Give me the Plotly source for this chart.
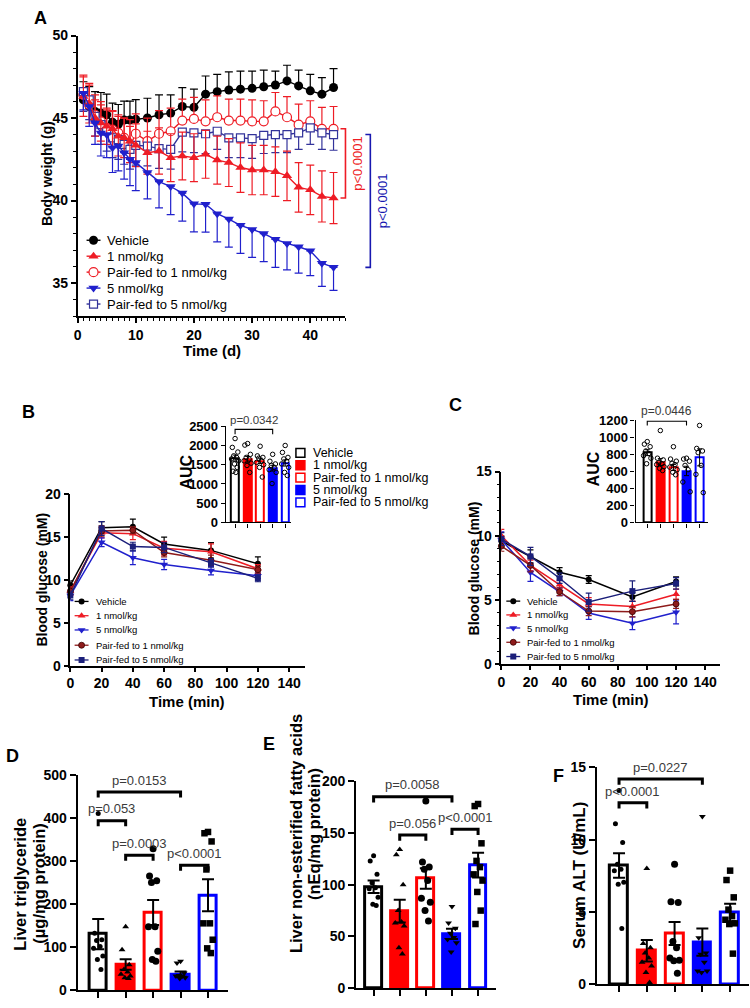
import plotly.graph_objects as go

W, H = 750, 1008
FONT = "Liberation Sans, Arial, Helvetica, sans-serif"

# ---------------- colours ----------------
BLACK = "#000000"
RED = "#EE1C25"
BLUE = "#2020CC"
NAVY = "#33339A"
DRED = "#8E1B1B"
NAVY2 = "#1B1F7A"
BAR_RED = "#FF0000"
BAR_BLUE = "#0000FF"
PGRAY = "#3A3A3A"

GROUPS = ["Vehicle", "1 nmol/kg", "Pair-fed to 1 nmol/kg", "5 nmol/kg", "Pair-fed to 5 nmol/kg"]

# ---------------- Panel A : body weight (g) ----------------
a_days = [1, 2, 3, 4, 5, 6, 7, 8, 9, 10, 12, 14, 16, 18, 20, 22, 24, 26, 28, 30, 32, 34, 36, 38, 40, 42, 44]
a_vehicle = [46.1, 45.7, 45.4, 45.3, 45.2, 44.75, 44.62, 44.88, 44.88, 44.92, 45.0, 45.2, 45.3, 45.7, 45.65,
             46.45, 46.6, 46.7, 46.75, 46.8, 46.9, 47.0, 47.25, 46.95, 46.65, 46.45, 46.85]
a_vehicle_sem = [1.1, 1.2, 1.2, 1.25, 1.25, 1.15, 1.2, 1.15, 1.15, 1.2, 1.2, 1.2, 1.1, 1.15, 1.1,
                 1.1, 1.05, 1.1, 1.1, 1.05, 1.0, 0.85, 0.95, 0.95, 1.0, 1.0, 1.15]
a_1nmol = [46.3, 45.9, 45.0, 44.7, 44.5, 44.35, 43.9, 43.8, 43.6, 43.35, 42.9, 43.0, 42.6, 42.7, 42.6,
           42.8, 42.45, 42.3, 42.0, 41.85, 41.85, 41.75, 41.5, 40.8, 40.65, 40.25, 40.15]
a_1nmol_sem = [1.2, 1.2, 1.1, 1.1, 1.1, 1.1, 1.2, 1.2, 1.3, 1.3, 1.3, 1.4, 1.45, 1.45, 1.45,
               1.45, 1.45, 1.45, 1.5, 1.5, 1.5, 1.5, 1.5, 1.5, 1.5, 1.55, 1.55]
a_pf1 = [46.4, 45.8, 45.2, 44.8, 44.4, 44.3, 44.1, 43.8, 43.3, 44.05, 43.6, 44.05, 44.2, 44.85, 44.95,
         44.8, 45.05, 44.85, 44.85, 44.8, 44.8, 45.4, 45.05, 44.6, 44.8, 44.35, 44.35]
a_pf1_sem = [1.2, 1.2, 1.2, 1.2, 1.1, 1.1, 1.1, 1.2, 1.2, 1.2, 1.4, 1.4, 1.4, 1.3, 1.3,
             1.3, 1.3, 1.3, 1.3, 1.3, 1.25, 1.15, 1.25, 1.25, 1.25, 1.3, 1.35]
a_5nmol = [46.5, 45.7, 44.7, 44.1, 44.0, 43.2, 43.3, 42.9, 42.5, 42.3, 41.7, 41.15, 40.85, 40.45, 39.8,
           39.78, 39.2, 38.88, 38.5, 38.25, 38.0, 37.65, 37.4, 37.2, 36.95, 36.2, 35.95]
a_5nmol_sem = [1.0, 1.2, 1.3, 1.4, 1.4, 1.5, 1.5, 1.6, 1.6, 1.7, 1.6, 1.6, 1.7, 1.7, 1.7,
               1.7, 1.7, 1.7, 1.7, 1.7, 1.7, 1.7, 1.6, 1.6, 1.5, 1.4, 1.4]
a_pf5 = [46.6, 46.1, 45.1, 44.6, 44.2, 43.8, 43.7, 43.4, 43.1, 43.35, 43.3, 43.15, 43.1, 44.15, 44.1,
         44.05, 44.2, 43.8, 43.8, 43.75, 43.95, 44.0, 44.0, 44.1, 44.4, 44.1, 44.0]
a_pf5_sem = [1.2, 1.2, 1.2, 1.2, 1.2, 1.2, 1.2, 1.2, 1.2, 1.2, 1.2, 1.2, 1.2, 1.2, 1.2,
             1.2, 1.1, 1.2, 1.2, 1.2, 1.1, 1.1, 1.1, 1.0, 1.0, 1.0, 0.95]
a_x_ticks = [0, 10, 20, 30, 40]
a_y_ticks = [35, 40, 45, 50]

# ---------------- Panel B : IPGTT blood glucose (mM) ----------------
b_time = [0, 20, 40, 60, 90, 120]
b_vehicle = [9.4, 16.1, 16.2, 14.2, 13.45, 11.9]
b_vehicle_sem = [0.5, 0.7, 0.9, 0.8, 0.9, 0.8]
b_1nmol = [8.7, 15.5, 15.4, 13.7, 13.3, 11.3]
b_1nmol_sem = [0.5, 0.6, 0.7, 0.8, 0.9, 0.5]
b_5nmol = [8.2, 14.4, 12.6, 11.8, 11.1, 10.5]
b_5nmol_sem = [0.6, 0.5, 0.8, 0.6, 0.5, 0.3]
b_pf1 = [8.7, 15.7, 15.8, 13.2, 12.3, 11.2]
b_pf1_sem = [0.4, 0.6, 0.4, 0.5, 0.6, 0.4]
b_pf5 = [8.2, 16.0, 13.9, 13.8, 12.0, 10.2]
b_pf5_sem = [0.5, 0.8, 0.5, 0.6, 0.5, 0.4]
b_auc_mean = [1670, 1640, 1600, 1410, 1545]
b_auc_sem = [80, 75, 70, 75, 80]
b_auc_vehicle = [2180, 1950, 1830, 1730, 1690, 1650, 1600, 1520, 1430, 1330, 1300]
b_auc_1nmol = [2050, 2010, 1770, 1690, 1650, 1600, 1540, 1480, 1300]
b_auc_pf1 = [1980, 1730, 1690, 1670, 1600, 1560, 1500, 1430, 1180]
b_auc_5nmol = [1770, 1590, 1520, 1480, 1430, 1370, 1300, 1010]
b_auc_pf5 = [2000, 1820, 1690, 1650, 1590, 1520, 1430, 1300, 1220]

# ---------------- Panel C : ITT blood glucose (mM) ----------------
c_time = [0, 20, 40, 60, 90, 120]
c_vehicle = [9.6, 8.4, 7.17, 6.6, 5.25, 6.45]
c_vehicle_sem = [0.4, 0.5, 0.35, 0.3, 0.35, 0.35]
c_1nmol = [10.0, 7.7, 6.2, 4.7, 4.5, 5.45]
c_1nmol_sem = [0.5, 0.4, 0.35, 0.5, 0.4, 0.4]
c_5nmol = [9.7, 7.15, 5.65, 4.0, 3.2, 4.05]
c_5nmol_sem = [0.6, 0.7, 0.3, 0.5, 0.5, 0.9]
c_pf1 = [9.2, 7.7, 5.65, 4.15, 4.1, 4.7]
c_pf1_sem = [0.4, 0.5, 0.3, 0.35, 0.4, 0.35]
c_pf5 = [9.75, 8.4, 6.7, 4.85, 5.7, 6.3]
c_pf5_sem = [0.5, 0.7, 0.4, 0.7, 0.8, 0.45]
c_auc_mean = [820, 710, 645, 605, 765]
c_auc_sem = [35, 40, 35, 55, 100]
c_auc_vehicle = [950, 920, 890, 840, 810, 785, 755, 690]
c_auc_1nmol = [1080, 755, 735, 705, 690, 680, 655, 635, 610]
c_auc_pf1 = [890, 745, 720, 695, 680, 650, 620, 590, 560]
c_auc_5nmol = [755, 745, 720, 670, 620, 475, 360]
c_auc_pf5 = [1140, 870, 840, 820, 670, 565, 350]

# ---------------- Panel D : liver triglyceride ----------------
d_mean = [130, 59.5, 180, 37, 220]
d_sem = [35, 12, 29, 6, 37]
d_vehicle = [410, 132, 117, 115, 101, 97, 79, 71, 48]
d_1nmol = [147, 94, 59, 48, 42, 37, 33, 29, 27]
d_pf1 = [328, 265, 254, 250, 147, 147, 90, 71, 67]
d_5nmol = [67, 63, 40, 34, 33, 33, 29, 27]
d_pf5 = [367, 364, 345, 280, 155, 155, 117, 97, 86]

# ---------------- Panel E : liver NEFA ----------------
e_mean = [98, 74.5, 106, 52.5, 119]
e_sem = [6, 11, 10, 5, 12]
e_vehicle = [128, 123, 110, 102, 97, 96, 88, 81, 80]
e_1nmol = [134, 129, 100, 75, 64, 63, 60, 39, 33]
e_pf1 = [181, 122, 117, 115, 104, 87, 83, 75, 65]
e_5nmol = [79, 63, 58, 53, 49, 47, 44, 35]
e_pf5 = [178, 176, 140, 123, 117, 110, 104, 93, 75, 62]

# ---------------- Panel F : serum ALT ----------------
f_mean = [8.2, 2.3, 3.5, 2.9, 4.95]
f_sem = [0.85, 0.75, 0.8, 0.95, 0.6]
f_vehicle = [13.4, 11.1, 9.8, 8.3, 7.95, 7.85, 7.05, 6.9, 3.85]
f_1nmol = [8.0, 2.8, 2.5, 2.15, 1.8, 1.5, 1.25, 0.8, 0.1]
f_pf1 = [8.3, 5.7, 5.65, 2.95, 2.5, 1.8, 1.65, 1.6, 0.75]
f_5nmol = [11.6, 3.2, 2.15, 2.05, 1.5, 0.9, 0.9, 0.8]
f_pf5 = [7.85, 7.2, 6.0, 5.15, 4.7, 4.45, 4.2, 4.15, 2.1]

# ---------------- helpers ----------------
fig = go.Figure()
JIT = [0.0, -0.13, 0.13, -0.06, 0.07, -0.17, 0.17, -0.03, 0.1, -0.1, 0.03]
JIT_INSET = [0.0, -0.22, 0.22, -0.11, 0.12, -0.28, 0.28, -0.05, 0.17, -0.17, 0.06]


def axis_common(size=14, lw=1.5):
    return dict(showline=True, linecolor="black", linewidth=lw, ticks="outside", ticklen=5,
                tickwidth=lw, tickcolor="black", showgrid=False, zeroline=False,
                tickfont=dict(family=FONT, size=size, color="black", weight="bold"),
                fixedrange=True)


class Panel:
    def __init__(self, sfx, xpx, xr, ypx, yr):
        self.sfx, self.xpx, self.xr, self.ypx, self.yr = sfx, xpx, xr, ypx, yr
        self.xa, self.ya = "x" + sfx, "y" + sfx

    def px(self, v):
        return self.xpx[0] + (v - self.xr[0]) / (self.xr[1] - self.xr[0]) * (self.xpx[1] - self.xpx[0])

    def py(self, v):
        return self.ypx[1] - (v - self.yr[0]) / (self.yr[1] - self.yr[0]) * (self.ypx[1] - self.ypx[0])

    def setup(self, xkw, ykw, size=14, lw=1.5):
        xk = axis_common(size, lw)
        xk.update(domain=[self.xpx[0] / W, self.xpx[1] / W], range=list(self.xr), anchor=self.ya)
        xk.update(xkw)
        yk = axis_common(size, lw)
        yk.update(domain=[1 - self.ypx[1] / H, 1 - self.ypx[0] / H], range=list(self.yr), anchor=self.xa)
        yk.update(ykw)
        fig.update_layout({"xaxis" + self.sfx: xk, "yaxis" + self.sfx: yk})


def text(x, y, s, size, color="black", bold=False, angle=0, xanchor="center", yanchor="middle"):
    fig.add_annotation(x=x, y=y, xref="x9", yref="y9", text=s, showarrow=False, textangle=angle,
                       xanchor=xanchor, yanchor=yanchor,
                       font=dict(family=FONT, size=size, color=color, weight="bold" if bold else "normal"))


def path(d, color="black", width=1.0):
    fig.add_shape(type="path", path=d, xref="x9", yref="y9", line=dict(color=color, width=width))


def hbracket(p, i0, i1, yv, drop, lw, color="black"):
    x0, x1 = p.px(i0), p.px(i1)
    y, yd = p.py(yv), p.py(yv - drop)
    path(f"M {x0},{yd} L {x0},{y} L {x1},{y} L {x1},{yd}", color, lw)


# panels (pixel boxes)
PA = Panel("", (74, 343), (0, 46), (28, 313), (33, 50))
PB = Panel("2", (66.7, 302.4), (0, 150), (494, 668.5), (0, 20))
PBi = Panel("3", (223, 289), (-0.74, 4.5), (425, 522.7), (0, 2500))
PC = Panel("4", (500, 719.6), (0, 150), (471, 667), (0, 15))
PCi = Panel("5", (635, 708), (-0.89, 4.66), (419, 522.7), (0, 1200))
PD = Panel("6", (74, 225), (-0.75, 4.72), (779, 998), (0, 500))
PE = Panel("7", (354, 495), (-0.67, 4.7), (785.7, 996), (0, 200))
PF = Panel("8", (596, 749), (-0.8, 4.68), (771.7, 991.7), (0, 15))

# overlay pixel axes
fig.update_layout(
    xaxis9=dict(domain=[0, 1], range=[0, W], visible=False, anchor="y9", fixedrange=True),
    yaxis9=dict(domain=[0, 1], range=[H, 0], visible=False, anchor="x9", fixedrange=True),
)

# ================= Panel A =================
PA.setup(
    dict(tickvals=a_x_ticks, minor=dict(dtick=1, ticks="outside", ticklen=3, tickwidth=1, tickcolor="black")),
    dict(tickvals=a_y_ticks, minor=dict(dtick=1, ticks="outside", ticklen=3, tickwidth=1, tickcolor="black")),
    size=14,
)
zeros = [0] * len(a_days)
a_series = [
    (a_vehicle, a_vehicle_sem, zeros, BLACK, dict(symbol="circle", size=9, color=BLACK)),
    (a_pf1, a_pf1_sem, zeros, RED, dict(symbol="circle", size=9, color="white", line=dict(color=RED, width=1.2))),
    (a_pf5, zeros, a_pf5_sem, NAVY, dict(symbol="square", size=8, color="white", line=dict(color=NAVY, width=1.2))),
    (a_1nmol, a_1nmol_sem, a_1nmol_sem, RED, dict(symbol="triangle-up", size=9, color=RED)),
    (a_5nmol, zeros, a_5nmol_sem, BLUE, dict(symbol="triangle-down", size=9, color=BLUE)),
]
for ys, up, dn, col, mk in a_series:
    fig.add_trace(go.Scatter(
        x=a_days, y=ys, mode="lines+markers", xaxis=PA.xa, yaxis=PA.ya, cliponaxis=False,
        line=dict(color=col, width=1.4), marker=mk,
        error_y=dict(type="data", symmetric=False, array=up, arrayminus=dn, color=col, thickness=1.2, width=4)))

# Panel A legend
a_leg = [
    ("Vehicle", BLACK, dict(symbol="circle", size=9, color=BLACK)),
    ("1 nmol/kg", RED, dict(symbol="triangle-up", size=9, color=RED)),
    ("Pair-fed to 1 nmol/kg", RED, dict(symbol="circle", size=9, color="white", line=dict(color=RED, width=1.2))),
    ("5 nmol/kg", BLUE, dict(symbol="triangle-down", size=9, color=BLUE)),
    ("Pair-fed to 5 nmol/kg", NAVY, dict(symbol="square", size=8, color="white", line=dict(color=NAVY, width=1.2))),
]
for k, (name, col, mk) in enumerate(a_leg):
    yy = 236 + k * 16.2
    fig.add_trace(go.Scatter(x=[83, 97], y=[yy, yy], mode="lines", line=dict(color=col, width=1.4),
                             xaxis="x9", yaxis="y9"))
    fig.add_trace(go.Scatter(x=[90], y=[yy], mode="markers", marker=mk, xaxis="x9", yaxis="y9"))
    text(102, yy, name, 13, xanchor="left")

# Panel A significance brackets (connect last points)
xr_ = PA.px(a_days[-1]) + 12
y_top, y_bot = PA.py(a_pf1[-1]), PA.py(a_1nmol[-1])
path(f"M {xr_-5},{y_top} L {xr_},{y_top} L {xr_},{y_bot} L {xr_-5},{y_bot}", RED, 1.6)
text(xr_ + 12, (y_top + y_bot) / 2, "p<0.0001", 13, RED, angle=-90)
xb_ = xr_ + 25
y_top, y_bot = PA.py(a_pf5[-1]), PA.py(a_5nmol[-1])
path(f"M {xb_-5},{y_top} L {xb_},{y_top} L {xb_},{y_bot} L {xb_-5},{y_bot}", "#1818B0", 1.6)
text(xb_ + 13, (y_top + y_bot) / 2, "p<0.0001", 13, "#1818B0", angle=-90)

text(44, 168, "Body weight (g)", 14, bold=True, angle=-90)
text(209, 348, "Time (d)", 15, bold=True)
text(37, 10, "A", 18, bold=True)

# ================= Panels B and C (line charts) =================
bc_styles = [
    (BLACK, dict(symbol="circle", size=6, color=BLACK)),
    (RED, dict(symbol="triangle-up", size=7, color=RED)),
    (BLUE, dict(symbol="triangle-down", size=7, color=BLUE)),
    (DRED, dict(symbol="circle", size=6, color=DRED, line=dict(color="#3A0000", width=0.8))),
    (NAVY2, dict(symbol="square", size=6, color=NAVY2)),
]
bc_names = ["Vehicle", "1 nmol/kg", "5 nmol/kg", "Pair-fed to 1 nmol/kg", "Pair-fed to 5 nmol/kg"]

PB.setup(dict(tickvals=[0, 20, 40, 60, 80, 100, 120, 140], ticklen=4), dict(tickvals=[0, 5, 10, 15, 20]))
PC.setup(dict(tickvals=[0, 20, 40, 60, 80, 100, 120, 140], ticklen=4),
         dict(tickvals=[0, 5, 10, 15], minor=dict(dtick=1, ticks="outside", ticklen=3, tickwidth=1, tickcolor="black")))

b_data = [(b_vehicle, b_vehicle_sem), (b_1nmol, b_1nmol_sem), (b_5nmol, b_5nmol_sem),
          (b_pf1, b_pf1_sem), (b_pf5, b_pf5_sem)]
c_data = [(c_vehicle, c_vehicle_sem), (c_1nmol, c_1nmol_sem), (c_5nmol, c_5nmol_sem),
          (c_pf1, c_pf1_sem), (c_pf5, c_pf5_sem)]
for P, tt, dat in [(PB, b_time, b_data), (PC, c_time, c_data)]:
    for (ys, sem), (col, mk) in zip(dat, bc_styles):
        fig.add_trace(go.Scatter(
            x=tt, y=ys, mode="lines+markers", xaxis=P.xa, yaxis=P.ya, cliponaxis=False,
            line=dict(color=col, width=1.5), marker=mk,
            error_y=dict(type="data", array=sem, color=col, thickness=1.2, width=3)))

# B and C legends
for x_line, rows in [((71, 85), [603, 617.5, 632, 647.5, 662.5]), ((505, 519), [602.7, 616.7, 630, 644.5, 659])]:
    for name, (col, mk), yy in zip(bc_names, bc_styles, rows):
        fig.add_trace(go.Scatter(x=list(x_line), y=[yy, yy], mode="lines", line=dict(color=col, width=1.3),
                                 xaxis="x9", yaxis="y9"))
        fig.add_trace(go.Scatter(x=[(x_line[0] + x_line[1]) / 2], y=[yy], mode="markers", marker=mk,
                                 xaxis="x9", yaxis="y9"))
        text(x_line[1] + 5, yy, name, 9.5, xanchor="left")

text(38, 581, "Blood glucose (mM)", 14, bold=True, angle=-90)
text(184, 705, "Time (min)", 15, bold=True)
text(25, 411, "B", 18, bold=True)
text(472, 569, "Blood glucose (mM)", 14, bold=True, angle=-90)
text(610, 703, "Time (min)", 15, bold=True)
text(454, 403, "C", 18, bold=True)

# ================= AUC insets =================
FILL = ["white", BAR_RED, "white", BAR_BLUE, "white"]
EDGE = ["black", BAR_RED, BAR_RED, BAR_BLUE, BAR_BLUE]
cats = [0, 1, 2, 3, 4]

PBi.setup(dict(tickvals=cats, showticklabels=False, ticklen=4),
          dict(tickvals=[0, 500, 1000, 1500, 2000, 2500], ticklen=4), size=13, lw=1.3)
PCi.setup(dict(tickvals=cats, showticklabels=False, ticklen=4),
          dict(tickvals=[0, 200, 400, 600, 800, 1000, 1200], ticklen=4), size=13, lw=1.3)

for P, mean, sem, pts in [
    (PBi, b_auc_mean, b_auc_sem, [b_auc_vehicle, b_auc_1nmol, b_auc_pf1, b_auc_5nmol, b_auc_pf5]),
    (PCi, c_auc_mean, c_auc_sem, [c_auc_vehicle, c_auc_1nmol, c_auc_pf1, c_auc_5nmol, c_auc_pf5]),
]:
    fig.add_trace(go.Bar(x=cats, y=mean, width=0.62, xaxis=P.xa, yaxis=P.ya,
                         marker=dict(color=FILL, line=dict(color=EDGE, width=2)),
                         error_y=dict(type="data", array=sem, color="black", thickness=1, width=2.5)))
    for i, vals in enumerate(pts):
        fig.add_trace(go.Scatter(x=[i + JIT_INSET[k] for k in range(len(vals))], y=vals, mode="markers",
                                 xaxis=P.xa, yaxis=P.ya, cliponaxis=False,
                                 marker=dict(symbol="circle-open", size=4.5, color="black", line=dict(width=1))))

hbracket(PBi, 0, 3, 2420, 130, 1.1)
text((PBi.px(0) + PBi.px(3)) / 2, PBi.py(2420) - 9, "p=0.0342", 11.5, PGRAY)
hbracket(PCi, 0, 3, 1190, 50, 1.1)
text((PCi.px(0) + PCi.px(3)) / 2, PCi.py(1190) - 10, "p=0.0446", 12, PGRAY)
text(183, 472, "AUC", 16, bold=True, angle=-90)
text(593, 468, "AUC", 16, bold=True, angle=-90)

# B inset legend
for k, (name, fc, ec) in enumerate(zip(GROUPS, FILL, EDGE)):
    yy = 452 + k * 12.6
    fig.add_shape(type="rect", xref="x9", yref="y9", x0=293.5, x1=302.5, y0=yy - 4.5, y1=yy + 4.5,
                  fillcolor=fc, line=dict(color=ec, width=1.5))
    text(309, yy, name, 12.5, xanchor="left")

# ================= Panels D, E, F =================
SYMS = [("circle", 5), ("triangle-up", 6), ("circle", 7), ("triangle-down", 6), ("square", 6.5)]
for P, mean, sem, pts, yticks in [
    (PD, d_mean, d_sem, [d_vehicle, d_1nmol, d_pf1, d_5nmol, d_pf5], [0, 100, 200, 300, 400, 500]),
    (PE, e_mean, e_sem, [e_vehicle, e_1nmol, e_pf1, e_5nmol, e_pf5], [0, 50, 100, 150, 200]),
    (PF, f_mean, f_sem, [f_vehicle, f_1nmol, f_pf1, f_5nmol, f_pf5], [0, 5, 10, 15]),
]:
    P.setup(dict(tickvals=cats, showticklabels=False, ticklen=6), dict(tickvals=yticks, ticklen=6), size=14, lw=2)
    fig.add_trace(go.Bar(x=cats, y=mean, width=0.64, xaxis=P.xa, yaxis=P.ya,
                         marker=dict(color=FILL, line=dict(color=EDGE, width=3)),
                         error_y=dict(type="data", array=sem, color="black", thickness=2, width=6)))
    for i, vals in enumerate(pts):
        sym, sz = SYMS[i]
        fig.add_trace(go.Scatter(x=[i + JIT[k] for k in range(len(vals))], y=vals, mode="markers",
                                 xaxis=P.xa, yaxis=P.ya, cliponaxis=False,
                                 marker=dict(symbol=sym, size=sz, color="black")))

# D brackets
for i0, i1, yv, drop, s in [(0, 3, 460, 13, "p=0.0153"), (0, 1, 393, 13, "p=0.053"),
                            (1, 2, 313, 13, "p=0.0003"), (3, 4, 290, 13, "p<0.0001")]:
    hbracket(PD, i0, i1, yv, drop, 3)
    text((PD.px(i0) + PD.px(i1)) / 2, PD.py(yv) - 12, s, 13, PGRAY)
# E brackets
for i0, i1, yv, drop, s in [(0, 3, 185, 5.5, "p=0.0058"), (1, 2, 148, 5.5, "p=0.056"),
                            (3, 4, 153.5, 5.5, "p<0.0001")]:
    hbracket(PE, i0, i1, yv, drop, 3)
    text((PE.px(i0) + PE.px(i1)) / 2, PE.py(yv) - 12, s, 13, PGRAY)
# F brackets
for i0, i1, yv, drop, s in [(0, 3, 14.2, 0.4, "p=0.0227"), (0, 1, 12.55, 0.4, "p<0.0001")]:
    hbracket(PF, i0, i1, yv, drop, 3)
    text((PF.px(i0) + PF.px(i1)) / 2, PF.py(yv) - 12, s, 13, PGRAY)

# y titles of D, E, F (one annotation per text line)
text(16, 890, "Liver triglyceride", 16.5, bold=True, angle=-90)
text(35, 890, "(µg/mg protein)", 16.5, bold=True, angle=-90)
text(293, 839, "Liver non-esterified fatty acids", 16.5, bold=True, angle=-90)
text(311, 839, "(nEq/mg protein)", 16.5, bold=True, angle=-90)
text(578, 881, "Serum ALT (U/mL)", 17, bold=True, angle=-90)
text(9, 760, "D", 18, bold=True)
text(266, 748, "E", 18, bold=True)
text(557, 780, "F", 18, bold=True)

fig.update_layout(
    width=W, height=H, autosize=False, showlegend=False,
    margin=dict(l=0, r=0, t=0, b=0, pad=0),
    paper_bgcolor="white", plot_bgcolor="rgba(0,0,0,0)",
    font=dict(family=FONT, color="black"),
    bargap=0,
)

fig.write_html("out.html", config={"displayModeBar": False},
               post_script="document.body.style.margin='0';")
